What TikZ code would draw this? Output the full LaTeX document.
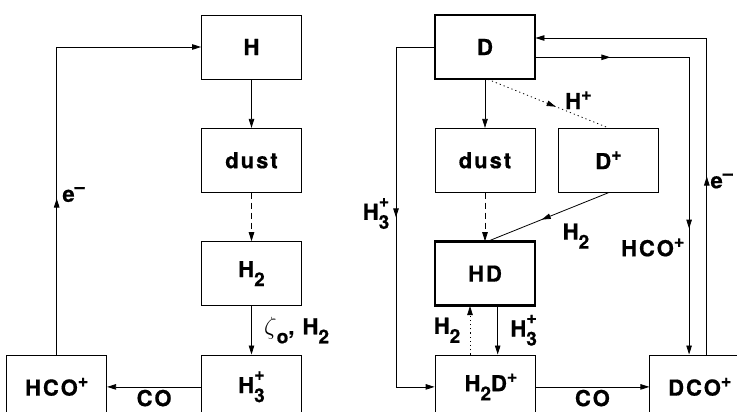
\documentclass[tikz,border=0pt]{standalone}
\usepackage{fontspec}
\newfontfamily\boxfont{TeX Gyre Heros}[LetterSpace=9,FakeBold=0.6]
\usetikzlibrary{positioning,arrows.meta,decorations.markings}

% lowered index, raised charge, and both stacked
\newcommand\lo[1]{\raisebox{-9pt}{\fontsize{19}{19}\selectfont #1}}
\newcommand\hi[1]{\raisebox{9pt}{\fontsize{18}{18}\selectfont #1}}
\newcommand\lohi[2]{\lo{#1}\llap{\raisebox{13pt}{\fontsize{18}{18}\selectfont #2}}}

\begin{document}
\begin{tikzpicture}[x=1pt, y=1pt,
    every node/.style={font=\boxfont\bfseries\fontsize{22}{24}\selectfont},
    arrhead/.tip={Triangle[length=9pt,width=5.5pt]},
    box/.style={draw, line width=0.8pt, outer sep=0.4pt, minimum width=100pt,
                minimum height=64pt, inner sep=0pt},
    thickbox/.style={box, line width=2.6pt},
    arr/.style={-arrhead, line width=0.8pt},
    midarr/.style={postaction={decorate, decoration={markings,
                   mark=at position #1 with {\arrow{arrhead}}}}},
    dashline/.style={dash pattern=on 6pt off 4pt},
    dotline/.style={dash pattern=on 1.2pt off 3pt},
    lowlabel/.style={below=2pt, inner sep=0.5pt}
  ]
  \useasboundingbox (0,0) rectangle (737,-412);
  \clip (0,0) rectangle (737,-412);

  % hydrogen network
  \node[box]                      (H)      at (251.5,-47) {H};
  \node[box, below=48.5pt of H]      (dustH)  {dust};
  \node[box, below=48.5pt of dustH]  (Htwo)   {H\lo2};
  \node[box, below=48.5pt of Htwo]   (Hthree) {H\lohi3+};
  \node[box, left=94pt of Hthree]    (HCO)    {HCO\hi+};

  \draw[arr] (H) -- (dustH);
  \draw[arr, dashline] (dustH) -- (Htwo);
  \draw[arr] (Htwo) -- node[right=9pt]
    {{\fontsize{24}{24}\selectfont$\zeta$}\lo{o}, H\lo2} (Hthree);
  \draw[arr] (Hthree) -- node[lowlabel] {CO} (HCO);
  \draw[arr, midarr=156pt] (HCO.north) |- node[pos=0.26, right=2pt] {e\hi{–}} (H.west);

  % deuterium network
  \node[thickbox]                    (D)      at (485,-47) {D};
  \node[box, below=48.5pt of D]         (dustD)  {dust};
  \node[box, right=22.7pt of dustD]     (Dp)     {D\hi+};
  \node[thickbox, below=48.5pt of dustD] (HD)   {HD};
  \node[box, below=48.5pt of HD]        (HtwoD)  {\hspace*{12pt}H\lo2D\hi+};
  \node[box, right=114pt of HtwoD]      (DCO)    {DCO\hi+};

  \draw[arr] (D) -- (dustD);
  \draw[arr, dashline] (dustD) -- (HD);
  \draw[dotline, line width=0.8pt, midarr=73pt] ([xshift=3pt]D.south) --
    node[pos=0.75, above=3pt] {H\hi+} (Dp.north);
  \draw[line width=0.8pt, midarr=72pt] (Dp.south) --
    node[pos=0.27, below=14pt] {H\lo2} ([xshift=3pt]HD.north);
  \draw[arr] ([xshift=12.7pt]HD.south) --
    node[right=9pt] {H\lohi3+} ([xshift=12.7pt]HtwoD.north);
  \draw[arr, dotline] ([xshift=-15pt]HtwoD.north) --
    node[left=6pt] {H\lo2} ([xshift=-15pt]HD.south);
  \draw[arr] (HtwoD) -- node[lowlabel] {CO} (DCO);
  \draw[arr, midarr=209pt] (D.west) -- ++(-38.6,0)
    |- node[pos=0.245, left=3pt] {H\lohi3+} (HtwoD.west);
  \draw[arr, midarr=75pt, midarr=325pt] ([yshift=-10.3pt]D.east)
    -| node[pos=0.82, left=1pt] {HCO\hi+} ([xshift=-10.7pt]DCO.north);
  \draw[arr, midarr=178pt] ([xshift=7pt]DCO.north)
    |- node[pos=0.274, right=0pt] {e\hi{–}} ([yshift=9pt]D.east);
\end{tikzpicture}
\end{document}
